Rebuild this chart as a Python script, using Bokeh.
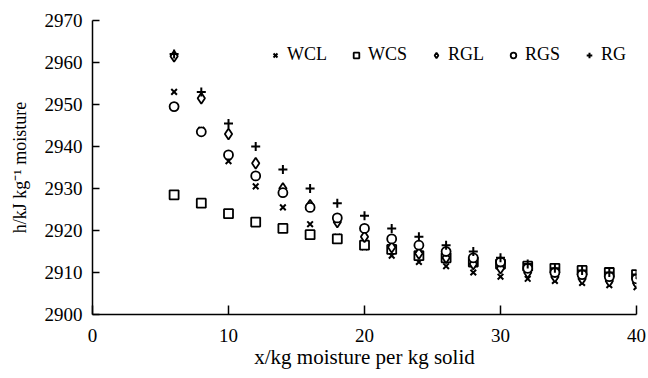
from bokeh.plotting import figure
from bokeh.models import Range1d, FixedTicker, Legend, LegendItem
from bokeh.embed import file_html
from bokeh.resources import INLINE

x = [6, 8, 10, 12, 14, 16, 18, 20, 22, 24, 26, 28, 30, 32, 34, 36, 38, 40]
WCL = [2953, 2944, 2936.5, 2930.5, 2925.5, 2921.5, 2918.5, 2916, 2914, 2912.5, 2911.5, 2910, 2909, 2908.5, 2908, 2907.5, 2907, 2906.5]
WCS = [2928.5, 2926.5, 2924, 2922, 2920.5, 2919, 2918, 2916.5, 2915.5, 2914, 2913.5, 2912.5, 2912, 2911.5, 2911, 2910.5, 2910, 2909.5]
RGL = [2961.5, 2951.5, 2943, 2936, 2930, 2926, 2922, 2918.5, 2916, 2914.5, 2913.5, 2912, 2911, 2910, 2909, 2908.5, 2908, 2907.5]
RGS = [2949.5, 2943.5, 2938, 2933, 2929, 2925.5, 2923, 2920.5, 2918, 2916.5, 2915, 2913.5, 2912.5, 2911, 2910, 2909.5, 2909, 2908.5]
RG = [2962, 2953, 2945.5, 2940, 2934.5, 2930, 2926.5, 2923.5, 2920.5, 2918.5, 2916.5, 2915, 2913.5, 2912, 2911, 2910.5, 2910, 2909.5]

x_ticks = [0, 10, 20, 30, 40]
y_ticks = [2900, 2910, 2920, 2930, 2940, 2950, 2960, 2970]

FONT = "'Liberation Serif', 'Times New Roman', Times, serif"

p = figure(width=646, height=376, output_backend="svg", toolbar_location=None,
           x_range=Range1d(0, 40), y_range=Range1d(2900, 2970),
           min_border_left=92, min_border_right=10, min_border_top=20, min_border_bottom=62)
p.outline_line_color = None
p.xgrid.visible = False
p.ygrid.visible = False
p.background_fill_color = "white"

r_wcl = p.scatter(x, WCL, marker="x", size=8, line_color="black", line_width=2)
r_wcs = p.scatter(x, WCS, marker="square", size=9, line_color="black", fill_color="white", line_width=1.8)
r_rgl = p.scatter(x, RGL, marker="diamond", size=11, line_color="black", fill_color="white", line_width=1.8)
r_rgs = p.scatter(x, RGS, marker="circle", size=9, line_color="black", fill_color="white", line_width=1.8)
r_rg = p.scatter(x, RG, marker="cross", size=9, line_color="black", line_width=2)

for ax in (p.xaxis[0], p.yaxis[0]):
    ax.axis_line_color = "black"
    ax.axis_line_width = 1.5
    ax.major_tick_line_color = "black"
    ax.major_tick_line_width = 1.5
    ax.minor_tick_line_color = None
    ax.major_tick_out = 0
    ax.major_label_text_font = FONT
    ax.major_label_text_font_size = "19px"
    ax.major_label_text_color = "black"
    ax.axis_label_text_font = FONT
    ax.axis_label_text_font_style = "normal"
    ax.axis_label_text_color = "black"

p.xaxis.ticker = FixedTicker(ticks=x_ticks)
p.yaxis.ticker = FixedTicker(ticks=y_ticks)
p.xaxis.major_tick_in = 9
p.yaxis.major_tick_in = 7
p.xaxis.major_label_standoff = 14
p.yaxis.major_label_standoff = 10
p.xaxis.axis_label = "x/kg moisture per kg solid"
p.yaxis.axis_label = "h/kJ kg\u207b\u00b9 moisture"
p.xaxis.axis_label_text_font_size = "21px"
p.yaxis.axis_label_text_font_size = "18px"
p.xaxis.axis_label_standoff = 0
p.yaxis.axis_label_standoff = 12

legend = Legend(items=[
    LegendItem(label="WCL", renderers=[r_wcl]),
    LegendItem(label="WCS", renderers=[r_wcs]),
    LegendItem(label="RGL", renderers=[r_rgl]),
    LegendItem(label="RGS", renderers=[r_rgs]),
    LegendItem(label="RG", renderers=[r_rg]),
], orientation="horizontal", location=(176, 249))
legend.border_line_color = None
legend.background_fill_alpha = 0
legend.padding = 0
legend.margin = 0
legend.spacing = 22
legend.glyph_width = 14
legend.glyph_height = 20
legend.label_standoff = 5
legend.label_height = 20
legend.label_text_font = FONT
legend.label_text_font_size = "18px"
legend.label_text_color = "black"
p.add_layout(legend, "center")

open("out.html", "w").write(file_html(p, INLINE))
